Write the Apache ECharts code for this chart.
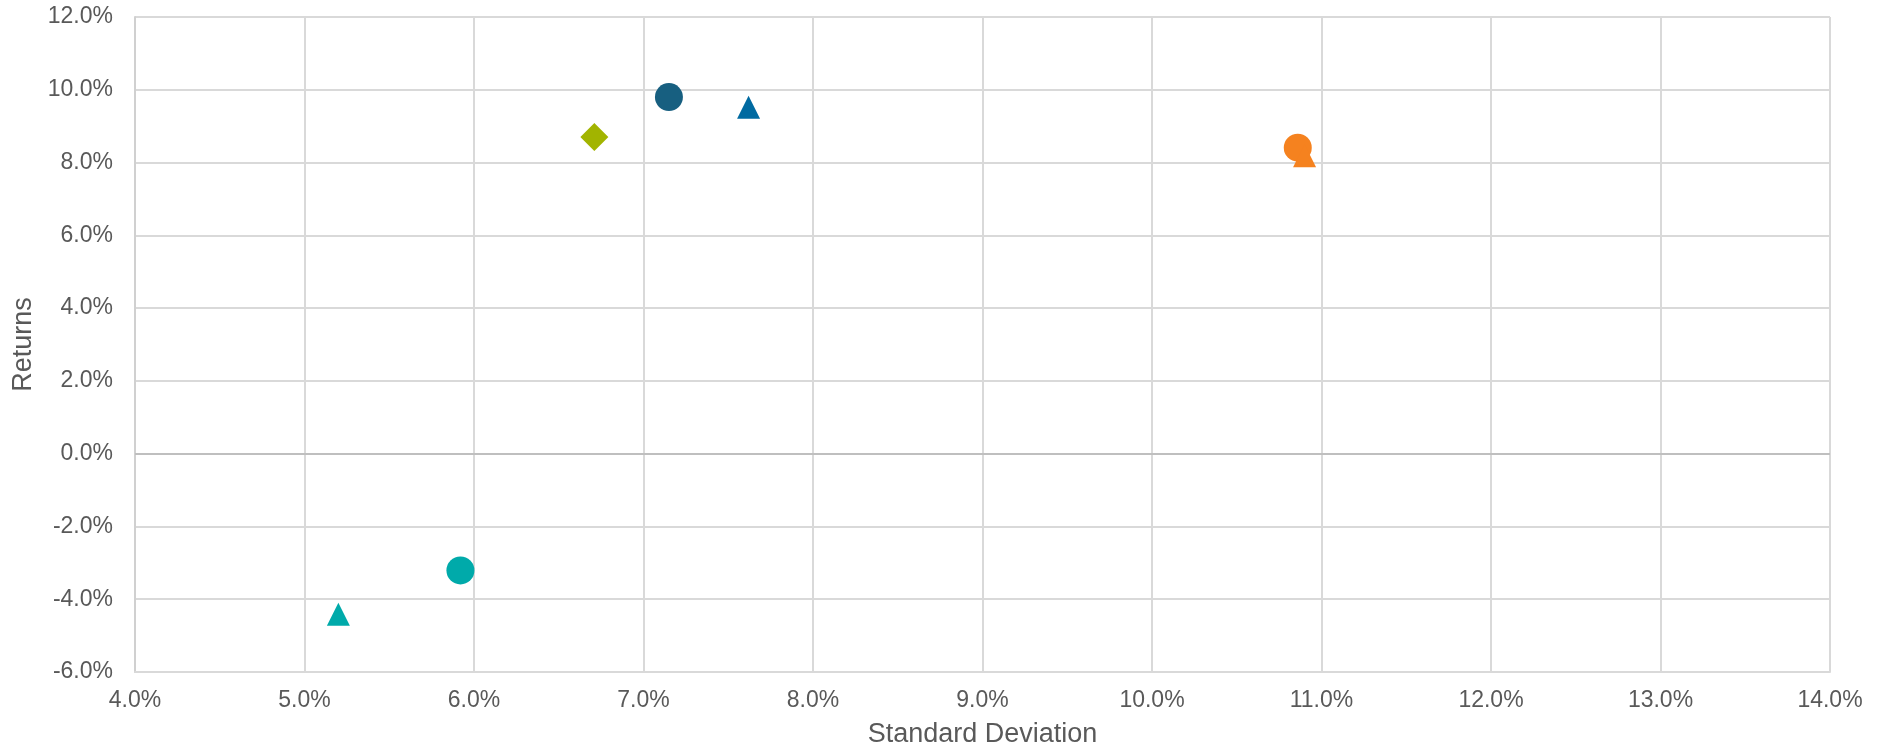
<!DOCTYPE html>
<html>
<head>
<meta charset="utf-8">
<title>Risk vs Return</title>
<script src="https://cdn.jsdelivr.net/npm/echarts@6/dist/echarts.min.js"></script>
<style>
  html, body { margin: 0; padding: 0; background: #ffffff; }
  #chart { width: 1888px; height: 754px; }
</style>
</head>
<body>
<div id="chart"></div>
<script>
// Risk / return points: standard deviation (x, %) and returns (y, %)
const seriesNames = ['Portfolio A', 'Portfolio B', 'Portfolio C', 'Portfolio D', 'Portfolio E', 'Portfolio F', 'Portfolio G'];
const stdDev  = [6.71, 7.15, 7.62, 10.86, 10.90, 5.92, 5.20];
const returns = [8.70, 9.80, 9.52, 8.41, 8.19, -3.21, -4.41];

// Marker styling per point
const markerShapes = ['diamond', 'circle', 'triangle', 'circle', 'triangle', 'circle', 'triangle'];
const markerColors = ['#a2b400', '#175f80', '#006aa1', '#f5821f', '#f5821f', '#00aaaa', '#00aaaa'];
const markerSizes  = [[28, 28], 28, [23, 23], 28, [23, 23], 28, [23, 23]];

// Axis settings
const xMin = 4, xMax = 14, xStep = 1;
const yMin = -6, yMax = 12, yStep = 2;

const fontFamily = '"Liberation Sans", Arial, sans-serif';
const textColor = '#595959';
const gridColor = '#d9d9d9';

const series = seriesNames.map((name, i) => ({
  name: name,
  type: 'scatter',
  symbol: markerShapes[i],
  symbolSize: markerSizes[i],
  itemStyle: { color: markerColors[i], opacity: 1 },
  data: [[stdDev[i], returns[i]]],
  z: 3
}));

// Zero line across the plot
series.unshift({
  name: 'zero',
  type: 'scatter',
  data: [],
  silent: true,
  markLine: {
    silent: true,
    symbol: ['none', 'none'],
    label: { show: false },
    lineStyle: { color: '#bfbfbf', width: 2, type: 'solid' },
    data: [{ yAxis: 0 }]
  },
  z: 2
});

const chart = echarts.init(document.getElementById('chart'), null, { renderer: 'canvas' });
chart.setOption({
  animation: false,
  backgroundColor: '#ffffff',
  grid: { left: 135, right: 58, top: 17, bottom: 82, containLabel: false },
  xAxis: {
    type: 'value',
    min: xMin, max: xMax, interval: xStep,
    name: 'Standard Deviation',
    nameLocation: 'middle',
    nameGap: 49,
    nameTextStyle: { color: textColor, fontSize: 27, fontFamily: fontFamily },
    axisLine: { show: true, onZero: false, lineStyle: { color: gridColor, width: 2 } },
    axisTick: { show: false },
    axisLabel: {
      color: textColor, fontSize: 23, fontFamily: fontFamily, margin: 17,
      formatter: v => v.toFixed(1) + '%'
    },
    splitLine: { show: true, lineStyle: { color: gridColor, width: 2 } }
  },
  yAxis: {
    type: 'value',
    min: yMin, max: yMax, interval: yStep,
    name: 'Returns',
    nameLocation: 'middle',
    nameGap: 97,
    nameTextStyle: { color: textColor, fontSize: 27, fontFamily: fontFamily },
    axisLine: { show: true, lineStyle: { color: '#d0d0d0', width: 2 } },
    axisTick: { show: false },
    axisLabel: {
      color: textColor, fontSize: 23, fontFamily: fontFamily, margin: 22,
      formatter: v => v.toFixed(1) + '%'
    },
    splitLine: { show: true, lineStyle: { color: gridColor, width: 2 } }
  },
  series: series
});
</script>
</body>
</html>
